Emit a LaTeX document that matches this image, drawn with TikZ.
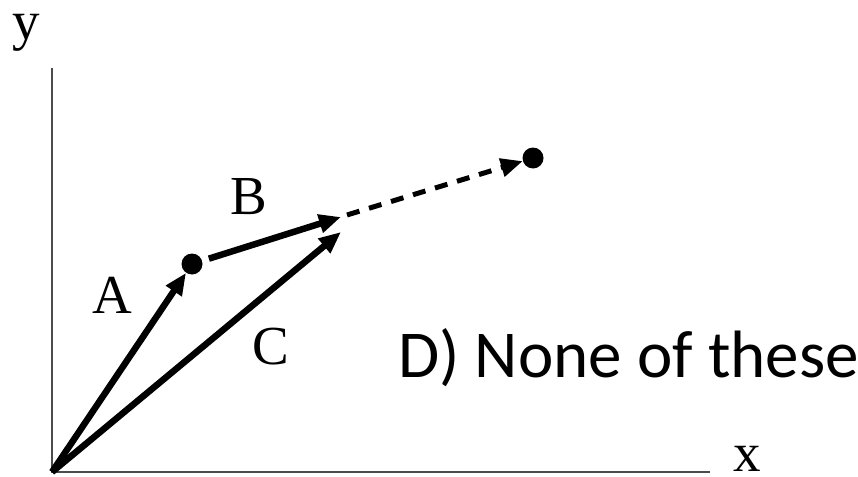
\documentclass[tikz,border=0pt]{standalone}
\usepackage{fontspec}
\setmainfont{Liberation Serif}
\newfontfamily\calibri{Carlito}
\usetikzlibrary{arrows.meta}

\begin{document}
\begin{tikzpicture}[x=1pt, y=-1pt,
  vec/.style={line width=6.5pt, -{Triangle[length=22pt,width=18pt]}},
  dot/.style={circle, fill, inner sep=0pt, minimum size=21pt},
  lbl/.style={font=\fontsize{55}{60}\selectfont, inner sep=0pt}]
  \useasboundingbox (0,0) rectangle (858,476);
  % Axes
  \coordinate (O) at (52,472);
  \coordinate (ytop) at (52,68);
  \coordinate (xend) at (710,472);
  \draw[black!70, line width=1.6pt] (ytop) -- (O) -- (xend);
  \node[lbl] (ylbl) at (26,33) {y};
  \node[lbl] (xlbl) at (747,459) {x};
  % Points
  \node[dot] (p1) at (192,264) {};
  \node[dot] (p2) at (533,158) {};
  \coordinate (btip) at (341,217);
  \coordinate (ctip) at (341,232);
  \coordinate (dstart) at (347,215);
  % Vectors A, B, C
  \draw[vec] (O) -- (p1);
  \draw[vec, shorten <=7pt] (p1) -- (btip);
  \draw[vec] (O) -- (ctip);
  % Dashed continuation
  \draw[vec, line width=5pt, dash pattern=on 13pt off 10pt] (dstart) -- (p2);
  % Labels
  \node[lbl] (a) at (112,295) {A};
  \node[lbl] (b) at (249,197) {B};
  \node[lbl] (c) at (271,347) {C};
  \node[font=\calibri\fontsize{67}{70}\selectfont, anchor=base west, inner sep=0pt] (d) at (398,377) {D) None of these};
\end{tikzpicture}
\end{document}
